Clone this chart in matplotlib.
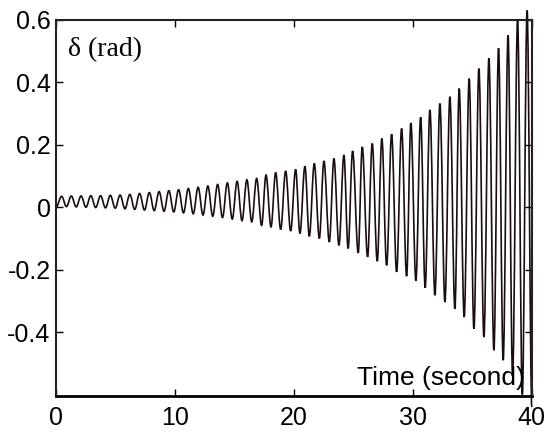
import matplotlib
matplotlib.use('Agg')
import matplotlib.pyplot as plt
from matplotlib.path import Path
from matplotlib.patches import PathPatch

# maxima of delta (time in s, value in rad)
peak_t = [0.46, 1.28, 2.10, 2.92, 3.74, 4.56, 5.38, 6.20, 7.02, 7.84,
          8.66, 9.48, 10.30, 11.12, 11.94, 12.76, 13.58, 14.40, 15.22, 16.04,
          16.86, 17.65, 18.46, 19.30, 20.14, 20.92, 21.71, 22.52, 23.36, 24.20,
          24.93, 25.74, 26.58, 27.39, 28.21, 29.05, 29.83, 30.65, 31.43, 32.27,
          33.11, 33.89, 34.73, 35.55, 36.39, 37.20, 38.00, 38.80, 39.60]
peak_v = [0.035, 0.036, 0.036, 0.037, 0.037, 0.038, 0.039, 0.041, 0.044, 0.047,
          0.050, 0.053, 0.056, 0.060, 0.064, 0.068, 0.073, 0.078, 0.083, 0.088,
          0.092, 0.103, 0.111, 0.116, 0.121, 0.131, 0.140, 0.148, 0.156, 0.167,
          0.180, 0.193, 0.204, 0.220, 0.234, 0.252, 0.270, 0.288, 0.312, 0.332,
          0.354, 0.380, 0.412, 0.444, 0.477, 0.509, 0.551, 0.600, 0.630]

# minima
trough_t = [0.87, 1.69, 2.51, 3.33, 4.15, 4.97, 5.79, 6.61, 7.43, 8.25,
            9.07, 9.89, 10.71, 11.53, 12.35, 13.17, 13.99, 14.81, 15.63, 16.45,
            17.28, 18.07, 18.88, 19.72, 20.50, 21.29, 22.13, 22.97, 23.78, 24.55,
            25.40, 26.19, 27.00, 27.79, 28.63, 29.47, 30.25, 31.03, 31.85, 32.69,
            33.53, 34.31, 35.13, 35.97, 36.81, 37.59, 38.38, 39.20, 40.00]
trough_v = [0.002, 0.001, 0.000, -0.001, -0.002, -0.003, -0.005, -0.007, -0.009, -0.011,
            -0.013, -0.015, -0.018, -0.021, -0.025, -0.029, -0.033, -0.038, -0.043, -0.047,
            -0.058, -0.063, -0.071, -0.076, -0.084, -0.093, -0.100, -0.111, -0.122, -0.132,
            -0.146, -0.159, -0.173, -0.186, -0.207, -0.221, -0.236, -0.258, -0.282, -0.304,
            -0.325, -0.352, -0.389, -0.416, -0.458, -0.490, -0.540, -0.600, -0.640]

start_t = 0.0
start_v = 0.0

xticks = [0, 10, 20, 30, 40]
yticks = [-0.4, -0.2, 0, 0.2, 0.4, 0.6]
ylabels = ['-0.4', '-0.2', '0', '0.2', '0.4', '0.6']

# put the extrema in time order
t = [start_t]
d = [start_v]
for i in range(len(peak_t)):
    t.append(peak_t[i])
    d.append(peak_v[i])
    if i < len(trough_t):
        t.append(trough_t[i])
        d.append(trough_v[i])

# join the extrema with bezier curves, flat at each turn, so it looks like a wave
k = 0.364
verts = [(t[0], d[0])]
codes = [Path.MOVETO]
for i in range(1, len(t)):
    dt = t[i] - t[i - 1]
    verts += [(t[i - 1] + k * dt, d[i - 1]), (t[i] - k * dt, d[i]), (t[i], d[i])]
    codes += [Path.CURVE4] * 3

plt.rcParams['font.family'] = ['Liberation Sans', 'DejaVu Sans']

fig = plt.figure(figsize=(5.5, 4.32), dpi=100)
ax = fig.add_axes([0.102, 0.083, 0.865, 0.871])

wave = PathPatch(Path(verts, codes), fill=False, edgecolor='#1a0d0d',
                 linewidth=1.2, clip_on=False)
ax.add_patch(wave)

ax.set_xlim(0, 40)
ax.set_ylim(-0.605, 0.6)
ax.set_xticks(xticks)
ax.set_xticklabels([str(v) for v in xticks])
ax.set_yticks(yticks)
ax.set_yticklabels(ylabels)
ax.tick_params(direction='in', top=True, right=True, length=5, width=1,
               labelsize=18)
ax.tick_params(axis='x', pad=7)
ax.tick_params(axis='y', pad=4)

for s in ['top', 'left', 'right']:
    ax.spines[s].set_linewidth(1.5)
    ax.spines[s].set_color('#222222')
ax.spines['bottom'].set_linewidth(2)

ax.text(0.025, 0.92, 'δ (rad)', transform=ax.transAxes, fontsize=20,
        family=['Liberation Serif', 'DejaVu Serif'], va='center', ha='left')
ax.text(0.985, 0.015, 'Time (second)', transform=ax.transAxes, fontsize=19,
        va='bottom', ha='right')

fig.savefig('out.png', dpi=100)
